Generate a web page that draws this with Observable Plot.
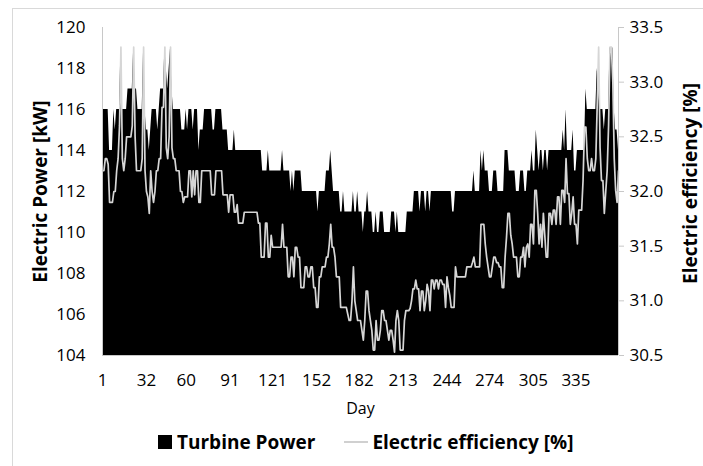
<!DOCTYPE html>
<html>
<head>
<meta charset="utf-8">
<script src="https://cdn.jsdelivr.net/npm/d3@7"></script>
<script src="https://cdn.jsdelivr.net/npm/@observablehq/plot@0.6"></script>
<style>
  body { margin: 0; background: #fff; font-family: "Open Sans", sans-serif; }
  #wrap { position: relative; width: 703px; height: 466px; overflow: hidden; background: #fff; }
  #frame { position: absolute; left: 12px; top: 8px; width: 760px; height: 520px; border: 1px solid #d9d9d9; box-sizing: border-box; }
  #chart { position: absolute; left: 0; top: 0; }
  #legend { position: absolute; top: 428px; left: 158px; height: 28px; display: flex; align-items: center;
            font-family: "Open Sans", sans-serif; font-weight: bold; font-size: 19px; color: #000; white-space: nowrap; }
  .sq { width: 14px; height: 14px; background: #000; margin-right: 5px; }
  .ln { width: 24px; height: 2px; background: #d0d0d0; margin-left: 29px; margin-right: 4px; }
</style>
</head>
<body>
<div id="wrap">
  <div id="frame"></div>
  <div id="chart"></div>
  <div id="legend"><span class="sq"></span><span>Turbine Power</span><span class="ln"></span><span>Electric efficiency [%]</span></div>
</div>
<script>
// Daily turbine power [kW], day 1..365
const power = [
  116,116,116,116,116,114,114,114,116,115,
  116,116,116,119,116,116,116,116,117,117,
  117,117,119,117,117,116,116,116,116,119,
  116,115,115,114,115,116,116,116,116,115,
  116,117,117,117,119,118,117,118,119,117,
  116,116,116,116,116,116,115,115,115,116,
  115,116,116,116,115,116,116,116,114,115,
  115,115,116,116,116,116,116,116,115,115,
  116,116,116,116,116,115,115,115,115,114,
  114,114,114,115,114,114,114,114,114,114,
  114,114,114,114,114,114,114,114,114,114,
  114,114,114,113,113,113,113,114,113,113,
  113,113,113,113,113,113,113,114,113,113,
  113,113,113,112,113,112,113,113,113,113,
  113,112,112,112,112,112,112,112,112,112,
  112,112,111,112,112,112,112,112,113,113,
  113,114,113,112,112,112,112,112,111,111,
  112,111,111,111,111,111,111,112,111,111,
  112,111,111,111,110,111,111,112,111,111,
  111,110,110,111,110,110,111,111,111,110,
  110,110,110,110,111,111,111,110,111,110,
  110,110,110,110,110,111,111,111,111,111,
  112,112,112,112,111,112,112,112,111,112,
  112,111,112,112,112,112,112,112,112,112,
  112,112,112,112,112,112,112,111,111,112,
  112,112,112,112,112,112,112,112,112,112,
  112,112,113,112,112,112,112,114,113,114,
  113,113,113,112,112,112,113,113,113,112,
  112,112,112,112,114,114,114,113,113,113,
  113,113,112,112,112,113,113,113,112,112,
  113,113,113,114,113,113,115,114,113,114,
  114,113,114,114,113,114,114,114,114,114,
  114,114,114,114,114,115,114,116,114,114,
  114,114,115,113,113,114,114,114,114,114,
  114,117,116,116,116,116,116,116,116,118,
  117,116,116,116,115,116,116,116,119,119,
  119,116,115,115,114
];

// Daily electric efficiency [%], day 1..365
const efficiency = [
  32.19,32.19,32.30,32.30,32.25,31.90,31.90,31.90,32.00,32.00,
  32.19,32.30,32.60,33.32,32.30,32.19,32.30,32.50,32.50,32.50,
  32.50,32.60,33.32,32.50,32.19,32.19,32.19,32.19,32.30,33.32,
  32.19,32.00,31.95,31.80,32.19,32.00,31.90,32.00,32.19,32.19,
  32.30,32.30,32.77,32.77,33.32,32.40,32.30,32.50,33.32,32.40,
  32.30,32.30,32.19,32.19,32.19,32.00,32.00,31.90,31.95,31.95,
  31.95,32.19,32.19,31.95,32.19,31.97,32.19,32.19,31.90,31.90,
  32.19,32.19,32.19,32.19,32.19,32.19,32.19,31.97,31.97,31.97,
  32.19,32.19,32.19,32.19,32.19,31.97,31.97,31.97,31.97,31.81,
  31.97,31.97,31.97,31.81,31.81,31.88,31.71,31.71,31.71,31.71,
  31.81,31.81,31.81,31.81,31.81,31.81,31.81,31.81,31.81,31.81,
  31.71,31.71,31.40,31.40,31.40,31.71,31.71,31.40,31.40,31.60,
  31.49,31.49,31.49,31.49,31.49,31.49,31.49,31.70,31.49,31.49,
  31.49,31.22,31.22,31.40,31.40,31.22,31.49,31.49,31.40,31.40,
  31.12,31.12,31.12,31.31,31.31,31.22,31.22,31.31,31.31,31.12,
  31.12,30.94,30.94,31.22,31.22,31.31,31.31,31.31,31.40,31.40,
  31.52,31.70,31.49,31.49,31.40,31.22,31.22,31.22,30.94,30.94,
  30.94,30.94,30.94,30.88,30.82,30.82,31.00,31.31,31.00,30.91,
  30.82,30.82,30.82,30.73,30.64,30.82,31.09,31.09,30.91,30.82,
  30.73,30.55,30.55,30.82,30.64,30.64,30.73,30.91,30.91,30.82,
  30.82,30.73,30.64,30.73,30.73,30.64,30.53,30.82,30.91,30.82,
  30.55,30.55,30.55,30.82,30.91,30.91,30.91,30.93,31.00,31.11,
  31.11,31.19,31.11,31.11,30.91,31.09,31.09,30.91,31.00,31.15,
  31.09,30.91,31.19,31.19,31.11,31.19,31.19,31.11,31.19,31.19,
  31.15,31.15,30.94,31.22,31.12,31.05,30.94,30.94,30.94,31.31,
  31.22,31.22,31.22,31.22,31.22,31.22,31.22,31.31,31.31,31.31,
  31.31,31.35,31.40,31.31,31.31,31.31,31.31,31.70,31.70,31.70,
  31.52,31.40,31.31,31.22,31.22,31.31,31.40,31.40,31.35,31.35,
  31.31,31.31,31.12,31.12,31.40,31.58,31.80,31.80,31.60,31.52,
  31.40,31.40,31.40,31.22,31.22,31.40,31.40,31.49,31.31,31.49,
  31.52,31.40,31.70,31.70,31.52,32.01,32.01,31.80,31.52,31.70,
  31.49,31.80,31.60,31.40,31.40,31.80,31.80,31.70,31.83,31.83,
  31.70,31.95,31.95,31.70,32.01,32.01,31.90,32.30,31.98,31.98,
  31.70,31.80,31.95,31.70,31.70,31.52,31.83,31.83,31.83,32.10,
  32.59,32.59,32.30,32.19,32.19,32.30,32.19,32.19,32.30,32.80,
  33.32,32.40,32.10,32.10,31.80,32.00,32.19,32.60,33.32,33.32,
  33.00,32.30,32.01,31.90,32.19
];

const dayTicks = [1, 32, 60, 91, 121, 152, 182, 213, 244, 274, 305, 335];
const powerTicks = [104, 106, 108, 110, 112, 114, 116, 118, 120];
const effTicks = [30.5, 31.0, 31.5, 32.0, 32.5, 33.0, 33.5];

const P0 = 104, P1 = 120, E0 = 30.5, E1 = 33.5;
const toLeft = e => P0 + (e - E0) * (P1 - P0) / (E1 - E0);
const fromLeft = p => E0 + (p - P0) * (E1 - E0) / (P1 - P0);

const data = power.map((p, i) => ({ day: i + 1, power: p, eff: efficiency[i] }));

const chart = Plot.plot({
  width: 703,
  height: 425,
  marginLeft: 102,
  marginRight: 85,
  marginTop: 27,
  marginBottom: 70,
  style: { fontFamily: '"Open Sans", sans-serif', fontSize: "17px", color: "#000", background: "transparent", overflow: "visible" },
  x: { domain: [1, 365], axis: null },
  y: { domain: [P0, P1], axis: null },
  marks: [
    Plot.areaY(data, { x: "day", y1: P0, y2: "power", fill: "black" }),
    Plot.lineY(data, { x: "day", y: d => toLeft(d.eff), stroke: "#d6d6d6", strokeWidth: 1.7 }),
    Plot.ruleX([1], { stroke: "#c8c8c8" }),
    Plot.ruleX([365], { stroke: "#c8c8c8" }),
    Plot.ruleY([P0], { stroke: "#c8c8c8" }),
    Plot.axisY(powerTicks, { anchor: "left", tickSize: 0, tickPadding: 17, label: null, tickFormat: d => String(d) }),
    Plot.axisY(effTicks.map(toLeft), { anchor: "right", tickSize: 5, tickPadding: 6, stroke: "#c8c8c8", label: null,
      tickFormat: d => fromLeft(d).toFixed(1) }),
    Plot.axisX(dayTicks, { anchor: "bottom", tickSize: 0, tickPadding: 18, label: null, tickFormat: d => String(d) }),
    Plot.text(["Electric Power [kW]"], { frameAnchor: "left", textAnchor: "middle", lineAnchor: "middle", rotate: -90, dx: -62, fontWeight: "bold", fontSize: 19 }),
    Plot.text(["Electric efficiency [%]"], { frameAnchor: "right", textAnchor: "middle", lineAnchor: "middle", rotate: -90, dx: 72, dy: -8, fontWeight: "bold", fontSize: 19 }),
    Plot.text(["Day"], { frameAnchor: "bottom", lineAnchor: "middle", dy: 53, fontSize: 16 })
  ]
});
document.getElementById("chart").appendChild(chart);
</script>
</body>
</html>
